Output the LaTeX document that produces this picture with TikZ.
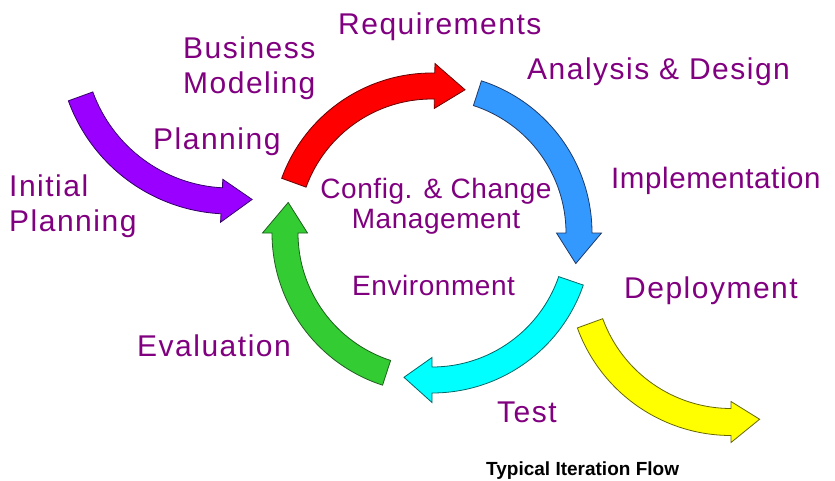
\documentclass[tikz,border=0pt]{standalone}
\usepackage{fontspec}
\setmainfont{Liberation Sans}
\newfontfamily\lblfont[LetterSpace=5]{Liberation Sans}
\newfontfamily\midfont[LetterSpace=2]{Liberation Sans}
\definecolor{txt}{HTML}{800080}
\definecolor{redf}{HTML}{FF0000}\definecolor{redd}{HTML}{660000}
\definecolor{bluef}{HTML}{3399FF}\definecolor{blued}{HTML}{1F3A66}
\definecolor{cyanf}{HTML}{00FFFF}\definecolor{cyand}{HTML}{006666}
\definecolor{greenf}{HTML}{33CC33}\definecolor{greend}{HTML}{1F5F1F}
\definecolor{purplef}{HTML}{9900FF}\definecolor{purpled}{HTML}{330066}
\definecolor{yellowf}{HTML}{FFFF00}\definecolor{yellowd}{HTML}{666600}
% #1 style, #2 center, #3 mid radius, #4 half band, #5 half head, #6 tail angle, #7 head base angle, #8 tip angle
\newcommand\bentarrow[8]{%
  \pgfmathsetmacro\rA{#3+#4}\pgfmathsetmacro\rB{#3-#4}%
  \pgfmathsetmacro\hA{#3+#5}\pgfmathsetmacro\hB{#3-#5}%
  \draw[#1,shift={#2}] (#6:\rA) arc[start angle=#6,end angle=#7,radius=\rA]
    -- (#7:\hA) -- (#8:#3) -- (#7:\hB) -- (#7:\rB)
    arc[start angle=#7,end angle=#6,radius=\rB] -- cycle;}
\tikzset{
  arr/.style={line width=0.8pt,line join=miter},
  lbl/.style={text=txt,inner sep=0pt,anchor=north west,font=\lblfont\fontsize{30}{34.5}\selectfont},
  midlbl/.style={text=txt,inner sep=0pt,font=\midfont\fontsize{28}{30}\selectfont},
}
\begin{document}
\begin{tikzpicture}[x=1pt,y=1pt]
\useasboundingbox (0,0) rectangle (835,480);
% cycle arrows
\bentarrow{arr,fill=redf,draw=redd}{(432,247)}{147}{13}{22.5}{160}{89}{77}
\bentarrow{arr,fill=bluef,draw=blued}{(432,247)}{147}{13}{22.5}{72}{0}{-12}
\bentarrow{arr,fill=cyanf,draw=cyand}{(432,247)}{147}{13}{22.5}{-19}{-90}{-101}
\bentarrow{arr,fill=greenf,draw=greend}{(432,247)}{147}{13}{22.5}{252}{180}{168}
% entry and exit arrows
\bentarrow{arr,fill=purplef,draw=purpled}{(230,438)}{159}{13}{21.5}{200}{267}{278}
\bentarrow{arr,fill=yellowf,draw=yellowd}{(731,208)}{150}{13.5}{20.5}{200}{270}{281}
% labels
\node[lbl] (req) at (338,467) {Requirements};
\node[lbl,align=left] (bm) at (183,443) {Business\\Modeling};
\node[lbl] (ad) at (527,422) {Analysis \& Design};
\node[lbl] (plan) at (153,352) {Planning};
\node[lbl,align=left] (init) at (9,305) {Initial\\Planning};
\node[lbl,font=\midfont\fontsize{29.5}{34}\selectfont] (impl) at (611,313) {Implementation};
\node[midlbl,anchor=north,align=center] (ccm) at (436,302) {Config. \& Change\\Management};
\node[midlbl,anchor=north west] (env) at (352,205) {Environment};
\node[lbl] (dep) at (624,203) {Deployment};
\node[lbl] (eval) at (137,145) {Evaluation};
\node[lbl] (test) at (497,78) {Test};
\node[inner sep=0pt,anchor=north west,font=\bfseries\fontsize{19}{21}\selectfont] (title) at (486,18.5) {Typical Iteration Flow};
\end{tikzpicture}
\end{document}
